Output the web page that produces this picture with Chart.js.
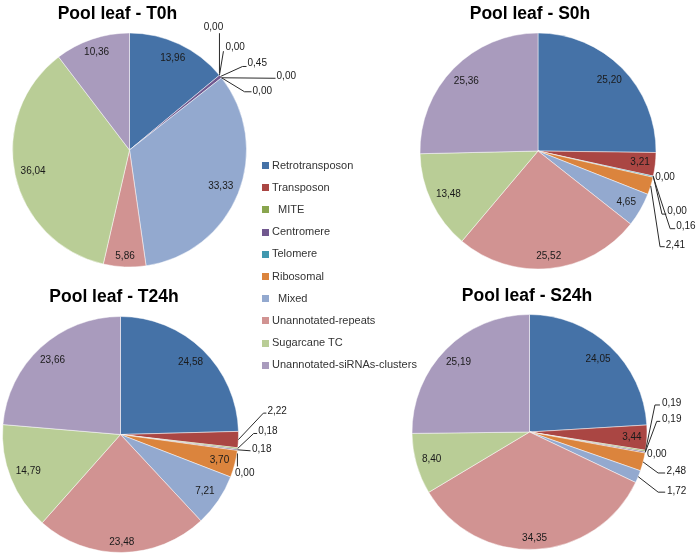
<!DOCTYPE html>
<html><head><meta charset="utf-8">
<script src="https://cdn.jsdelivr.net/npm/chart.js@4.4.1/dist/chart.umd.min.js"></script>
<style>
html,body{margin:0;padding:0;background:#fff;}
#wrap{position:relative;width:699px;height:556px;overflow:hidden;background:#fff;}
canvas{position:absolute;left:0;top:0;}
.title{position:absolute;font:bold 17.5px "Liberation Sans",Arial,sans-serif;color:#000;white-space:nowrap;line-height:17.5px;transform:translateX(-50%);}
.leg{position:absolute;font:11px "Liberation Sans",Arial,sans-serif;color:#333;white-space:pre;line-height:11px;height:11px;}
.sw{position:absolute;width:7px;height:7px;}
</style></head>
<body><div id="wrap"></div>
<script>
// ---------- DATA ----------
const categories = ['Retrotransposon','Transposon',' MITE','Centromere','Telomere','Ribosomal',' Mixed','Unannotated-repeats','Sugarcane TC','Unannotated-siRNAs-clusters'];
const titles = ['Pool leaf - T0h','Pool leaf - S0h','Pool leaf - T24h','Pool leaf - S24h'];
const valuesT0h  = [13.96, 0.00, 0.00, 0.45, 0.00, 0.00, 33.33, 5.86, 36.04, 10.36];
const valuesS0h  = [25.20, 3.21, 0.00, 0.00, 0.16, 2.41, 4.65, 25.52, 13.48, 25.36];
const valuesT24h = [24.58, 2.22, 0.18, 0.18, 0.00, 3.70, 7.21, 23.48, 14.79, 23.66];
const valuesS24h = [24.05, 3.44, 0.19, 0.19, 0.00, 2.48, 1.72, 34.35, 8.40, 25.19];

// ---------- STYLE / LAYOUT ----------
const colors = ['#4572A7','#AA4643','#89A54E','#71588F','#4198AF','#DB843D','#93A9CF','#D19392','#B9CD96','#A99BBD'];
const W = 699, H = 556;
// callout label layout for small slices (offsets relative to the slice's anchor on the rim)
const calloutsT0h = {
  1:{lx:-6, ly:-48, align:'center', line:[[0,-2],[0,-42]]},
  2:{lx:6, ly:-28, line:[[0,0],[4,-24]]},
  3:{lx:27, ly:-13, line:[[0,0],[22,-10],[26,-10]]},
  4:{lx:55, ly:-2, line:[[0,0],[54,0.5]]},
  5:{lx:31, ly:13, line:[[0,0],[23,14],[30,14]]}
};
const calloutsS0h = {
  2:{lx:2, ly:1, line:null},
  3:{lx:14, ly:35.6, line:[[0,0],[8.7,38],[13,38]]},
  4:{lx:23, ly:50, line:[[0,0],[17,52],[22,52]]},
  5:{lx:15, ly:59, line:[[0,0],[9.3,60.8],[14,60.8]]}
};
const calloutsT24h = {
  1:{lx:29, ly:-28, line:[[0,0],[25,-26.5],[28,-26.5]]},
  2:{lx:20.5, ly:-17, line:[[0,0],[16,-15],[19.5,-15]]},
  3:{lx:14.5, ly:-0.6, line:[[0,0],[13,1]]},
  4:{lx:-2.4, ly:22.8, line:[[0,3],[0,16]]}
};
const calloutsS24h = {
  2:{lx:16.5, ly:-48, line:[[0,0],[9.5,-46],[14.5,-46]]},
  3:{lx:16.8, ly:-33.4, line:[[0,0],[11.5,-31],[15,-31]]},
  4:{lx:2, ly:1, line:null},
  5:{lx:23.5, ly:9.5, line:[[0,0],[15,11],[22,11]]},
  6:{lx:28.7, ly:14.2, line:[[0,0],[20,15.5],[27,15.5]]}
};
const panels = [
  {title:titles[0], values:valuesT0h,  cx:129.5, cy:150,   r:117,   tx:117.5, tBase:19.3, callouts:calloutsT0h},
  {title:titles[1], values:valuesS0h,  cx:538,   cy:151,   r:118,   tx:530,   tBase:19.3, callouts:calloutsS0h},
  {title:titles[2], values:valuesT24h, cx:120.5, cy:434.5, r:118,   tx:114,   tBase:303,  callouts:calloutsT24h},
  {title:titles[3], values:valuesS24h, cx:529.5, cy:432,   r:117.5, tx:527,   tBase:301.5, callouts:calloutsS24h}
];
const legendX = 262, legendTextX = 272, legendY0 = 165, legendStep = 22.2;

const fmt = v => v.toFixed(2).replace('.', ',');

const pieLabels = {
  id:'pieLabels',
  afterDatasetsDraw(chart, args, opts){
    const ctx = chart.ctx;
    const meta = chart.getDatasetMeta(0);
    const vals = chart.data.datasets[0].data;
    const callouts = opts.callouts || {};
    ctx.save();
    ctx.font = opts.font;
    ctx.fillStyle = opts.color;
    ctx.strokeStyle = opts.lineColor;
    ctx.lineWidth = 1;
    ctx.textBaseline = 'middle';
    meta.data.forEach((arc, i) => {
      const p = arc.getProps(['x','y','startAngle','endAngle','outerRadius'], true);
      const mid = (p.startAngle + p.endAngle) / 2;
      const txt = fmt(vals[i]);
      const ax = p.x + Math.cos(mid) * p.outerRadius;
      const ay = p.y + Math.sin(mid) * p.outerRadius;
      const c = callouts[i];
      if (c) {
        if (c.line) {
          ctx.beginPath();
          c.line.forEach((q, k) => { const px = ax + q[0], py = ay + q[1]; k ? ctx.lineTo(px, py) : ctx.moveTo(px, py); });
          ctx.stroke();
        }
        ctx.textAlign = c.align || 'left';
        ctx.fillText(txt, ax + c.lx, ay + c.ly);
      } else if (vals[i] > 0) {
        const w = ctx.measureText(txt).width, h = opts.textH;
        const cs = Math.cos(mid), sn = Math.sin(mid);
        const e = Math.abs(cs) * w / 2 + Math.abs(sn) * h / 2;
        const d = p.outerRadius - opts.pad - e;
        ctx.textAlign = 'center';
        ctx.fillText(txt, p.x + cs * d, p.y + sn * d);
      }
    });
    ctx.restore();
  }
};

const wrap = document.getElementById('wrap');
panels.forEach(pn => {
  const cv = document.createElement('canvas');
  cv.width = W; cv.height = H;
  cv.style.width = W + 'px'; cv.style.height = H + 'px';
  wrap.appendChild(cv);
  const pad = {
    left: pn.cx > W/2 ? 2*pn.cx - W : 0,
    right: pn.cx < W/2 ? W - 2*pn.cx : 0,
    top: pn.cy > H/2 ? 2*pn.cy - H : 0,
    bottom: pn.cy < H/2 ? H - 2*pn.cy : 0
  };
  new Chart(cv, {
    type:'pie',
    data:{labels:categories, datasets:[{
      data:pn.values, backgroundColor:colors,
      borderColor:'rgba(255,255,255,0.8)',
      borderWidth: c => (c.raw > 0 ? 0.6 : 0),
      radius: pn.r
    }]},
    options:{
      responsive:false, animation:false, events:[],
      layout:{padding:pad},
      plugins:{
        legend:{display:false}, tooltip:{enabled:false},
        pieLabels:{callouts:pn.callouts, font:'10px "Liberation Sans", Arial, sans-serif', color:'#1a1a1a', lineColor:'#2a2a2a', textH:11, pad:5}
      }
    },
    plugins:[pieLabels]
  });
  const t = document.createElement('div');
  t.className = 'title';
  t.textContent = pn.title;
  t.style.left = pn.tx + 'px';
  t.style.top = (pn.tBase - 14.8) + 'px';
  wrap.appendChild(t);
});

categories.forEach((name, i) => {
  const yc = legendY0 + legendStep * i;
  const sw = document.createElement('div');
  sw.className = 'sw';
  sw.style.background = colors[i];
  sw.style.left = legendX + 'px';
  sw.style.top = (yc - 3) + 'px';
  wrap.appendChild(sw);
  const tx = document.createElement('div');
  tx.className = 'leg';
  tx.textContent = name;
  tx.style.left = (legendTextX + (name.startsWith(' ') ? 3 : 0)) + 'px';
  tx.style.top = (yc - 5.5) + 'px';
  wrap.appendChild(tx);
});
</script>
</body></html>
